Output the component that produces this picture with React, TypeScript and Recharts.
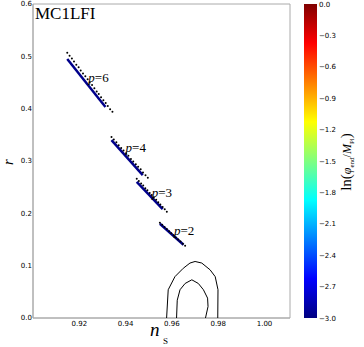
import React from 'react';
import { ScatterChart, Scatter, XAxis, YAxis, ReferenceArea } from 'recharts';

// ns / r points
const p6Dots = [
  [0.9148, 0.507], [0.9158, 0.501], [0.9168, 0.496], [0.9177, 0.49], [0.9187, 0.484], [0.9197, 0.479],
  [0.9206, 0.473], [0.9216, 0.467], [0.9226, 0.462], [0.9236, 0.456], [0.9245, 0.45], [0.9255, 0.445],
  [0.9265, 0.439], [0.9275, 0.433], [0.9284, 0.428], [0.9294, 0.422], [0.9304, 0.416], [0.9314, 0.411],
  [0.9323, 0.405], [0.9333, 0.399], [0.9343, 0.394],
];
const p4Dots = [
  [0.9339, 0.346], [0.9349, 0.341], [0.936, 0.336], [0.937, 0.33], [0.9381, 0.325], [0.9391, 0.32],
  [0.9402, 0.315], [0.9412, 0.31], [0.9423, 0.304], [0.9433, 0.299], [0.9444, 0.294], [0.9454, 0.289],
  [0.9465, 0.284], [0.9475, 0.278], [0.9486, 0.273], [0.9496, 0.268],
];
const p3Dots = [
  [0.9448, 0.266], [0.9457, 0.262], [0.9467, 0.257], [0.9476, 0.253], [0.9485, 0.248], [0.9494, 0.244],
  [0.9504, 0.239], [0.9513, 0.235], [0.9522, 0.23], [0.9532, 0.226], [0.9541, 0.221], [0.955, 0.217],
  [0.956, 0.212], [0.9569, 0.208], [0.9578, 0.203],
];
const p2Dots = [
  [0.9548, 0.182], [0.9558, 0.178], [0.9568, 0.174], [0.9578, 0.17], [0.9588, 0.166], [0.9597, 0.162],
  [0.9607, 0.158], [0.9617, 0.154], [0.9627, 0.15], [0.9637, 0.146], [0.9647, 0.142], [0.9657, 0.138],
];

const p6Line = [[0.9148, 0.495], [0.9313, 0.403]];
const p4Line = [[0.9339, 0.34], [0.9474, 0.273]];
const p3Line = [[0.9448, 0.26], [0.956, 0.208]];
const p2Line = [[0.9548, 0.18], [0.965, 0.14]];

const outerContour = [
  [0.9577, 0.0], [0.9584, 0.054], [0.9613, 0.079], [0.9649, 0.095], [0.9678, 0.105], [0.97, 0.108],
  [0.9729, 0.105], [0.9765, 0.092], [0.9787, 0.079], [0.9799, 0.054], [0.9798, 0.0],
];
const innerContour = [
  [0.962, 0.0], [0.9623, 0.034], [0.9635, 0.054], [0.9657, 0.066], [0.9686, 0.073], [0.9714, 0.066],
  [0.9736, 0.054], [0.9754, 0.038], [0.9756, 0.022], [0.9745, 0.0],
];

const pLabels = [
  { x: 0.9239, y: 0.451, p: '6' },
  { x: 0.94, y: 0.317, p: '4' },
  { x: 0.9513, y: 0.231, p: '3' },
  { x: 0.9609, y: 0.159, p: '2' },
];

const xTicks = [0.92, 0.94, 0.96, 0.98, 1.0];
const yTicks = [0, 0.1, 0.2, 0.3, 0.4, 0.5, 0.6];
const cbarTicks = [0.0, -0.3, -0.6, -0.9, -1.2, -1.5, -1.8, -2.1, -2.4, -2.7, -3.0];

const pts = (a: number[][]) => a.map(([x, y]) => ({ x, y }));

const noShape = () => <g />;
const dotShape = (props: any) => <circle cx={props.cx} cy={props.cy} r={1} fill="#000" />;
const labelShape = (props: any) => (
  <text x={props.cx} y={props.cy} fontFamily="Liberation Serif" fontSize={13} fill="#000">
    <tspan fontStyle="italic">p</tspan>
    <tspan>={props.payload.p}</tspan>
  </text>
);

const tickStyle = { fontSize: 7, fill: '#000', fontFamily: 'DejaVu Sans' };

const fmt = (v: number) => (v === 0 ? '0.0' : (v < 0 ? '\u2212' : '') + Math.abs(v).toFixed(1));

const App: React.FC = () => {
  const cbTop = 4;
  const cbBottom = 318;
  const cbH = cbBottom - cbTop;
  return (
    <div style={{ position: 'absolute', left: 0, top: 0, width: 364, height: 347, background: '#fff' }}>
      <ScatterChart width={364} height={347} margin={{ top: 4, right: 74, bottom: 0, left: 0 }}>
        <XAxis
          type="number"
          dataKey="x"
          domain={[0.9, 1.011]}
          ticks={xTicks}
          allowDataOverflow
          height={29}
          tickSize={0}
          tickMargin={3}
          tickLine={false}
          axisLine={{ stroke: '#aaa' }}
          tick={tickStyle}
          tickFormatter={(v: number) => v.toFixed(2)}
        />
        <YAxis
          type="number"
          dataKey="y"
          domain={[0, 0.6]}
          ticks={yTicks}
          allowDataOverflow
          width={33}
          tickSize={0}
          tickMargin={1}
          tickLine={false}
          axisLine={{ stroke: '#aaa' }}
          tick={tickStyle}
          tickFormatter={(v: number) => v.toFixed(1)}
        />
        <ReferenceArea x1={0.9} x2={1.011} y1={0} y2={0.6} fill="none" stroke="#aaa" />
        <Scatter data={pts(outerContour)} line={{ stroke: '#000', strokeWidth: 1 }} lineType="joint" shape={noShape} isAnimationActive={false} />
        <Scatter data={pts(innerContour)} line={{ stroke: '#000', strokeWidth: 1 }} lineType="joint" shape={noShape} isAnimationActive={false} />
        <Scatter data={pts(p6Line)} line={{ stroke: '#00008b', strokeWidth: 2.5 }} lineType="joint" shape={noShape} isAnimationActive={false} />
        <Scatter data={pts(p4Line)} line={{ stroke: '#00008b', strokeWidth: 2.5 }} lineType="joint" shape={noShape} isAnimationActive={false} />
        <Scatter data={pts(p3Line)} line={{ stroke: '#00008b', strokeWidth: 2.5 }} lineType="joint" shape={noShape} isAnimationActive={false} />
        <Scatter data={pts(p2Line)} line={{ stroke: '#00008b', strokeWidth: 2.5 }} lineType="joint" shape={noShape} isAnimationActive={false} />
        <Scatter data={pts(p6Dots)} shape={dotShape} isAnimationActive={false} />
        <Scatter data={pts(p4Dots)} shape={dotShape} isAnimationActive={false} />
        <Scatter data={pts(p3Dots)} shape={dotShape} isAnimationActive={false} />
        <Scatter data={pts(p2Dots)} shape={dotShape} isAnimationActive={false} />
        <Scatter data={pLabels} shape={labelShape} isAnimationActive={false} />
      </ScatterChart>
      <svg width={364} height={347} style={{ position: 'absolute', left: 0, top: 0, pointerEvents: 'none' }}>
        <defs>
          <linearGradient id="jet" x1="0" y1="1" x2="0" y2="0">
            <stop offset="0" stopColor="#000080" />
            <stop offset="0.125" stopColor="#0000ff" />
            <stop offset="0.375" stopColor="#00ffff" />
            <stop offset="0.625" stopColor="#ffff00" />
            <stop offset="0.875" stopColor="#ff0000" />
            <stop offset="1" stopColor="#800000" />
          </linearGradient>
        </defs>
        <text x={35} y={19} fontFamily="Liberation Serif" fontSize={17} fill="#000">MC1LFI</text>
        <text x={13} y={162} fontFamily="Liberation Serif" fontStyle="italic" fontSize={15} fill="#000"
          textAnchor="middle" transform="rotate(-90 13 162)">r</text>
        <text x={150} y={336} fontFamily="Liberation Serif" fontStyle="italic" fontSize={19} fill="#000">n</text>
        <text x={163} y={344} fontFamily="Liberation Serif" fontSize={9} fill="#000">S</text>
        <rect x={304} y={cbTop} width={13} height={cbH} fill="url(#jet)" />
        {cbarTicks.map((t, i) => (
          <text key={i} x={319} y={cbTop + (cbH * i) / (cbarTicks.length - 1) + 2.5} fontSize={7}
            fontFamily="DejaVu Sans" fill="#000">{fmt(t)}</text>
        ))}
        <text x={351} y={162} fontFamily="Liberation Serif" fontSize={15} fill="#000" textAnchor="middle"
          transform="rotate(-90 351 162)">
          <tspan>ln(</tspan>
          <tspan fontStyle="italic" fontSize={12}>φ</tspan>
          <tspan fontSize={7} dy={3}>end</tspan>
          <tspan fontSize={12} dy={-3}>/</tspan>
          <tspan fontStyle="italic" fontSize={12}>M</tspan>
          <tspan fontSize={7} dy={3}>Pl</tspan>
          <tspan dy={-3}>)</tspan>
        </text>
      </svg>
    </div>
  );
};

export default App;
